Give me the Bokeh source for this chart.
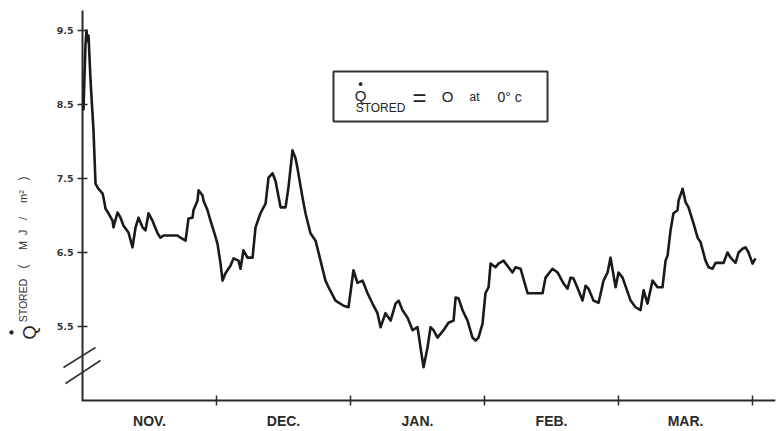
from bokeh.plotting import figure
from bokeh.models import FixedTicker, BoxAnnotation, Label, Arrow
from bokeh.embed import file_html
from bokeh.resources import INLINE

# ---- data (x in months from 1 Nov, y in MJ/m^2) ----
MONTH_POS = [0.007, 0.022, 0.030, 0.037, 0.045, 0.060, 0.082, 0.097, 0.119, 0.149,
             0.157, 0.172, 0.194, 0.224, 0.231, 0.261, 0.284, 0.306, 0.343, 0.373,
             0.396, 0.418, 0.448, 0.470, 0.493, 0.522, 0.560, 0.582, 0.604, 0.657,
             0.709, 0.731, 0.769, 0.791, 0.821, 0.828, 0.858, 0.866, 0.896, 0.903,
             0.933, 0.955, 0.978, 1.007, 1.030, 1.045, 1.067, 1.104, 1.127, 1.164,
             1.179, 1.201, 1.231, 1.269, 1.291, 1.328, 1.366, 1.388, 1.418, 1.440,
             1.478, 1.515, 1.537, 1.567, 1.590, 1.604, 1.642, 1.664, 1.701, 1.739,
             1.776, 1.813, 1.836, 1.888, 1.948, 1.985, 2.022, 2.052, 2.090, 2.127,
             2.164, 2.201, 2.224, 2.261, 2.299, 2.336, 2.358, 2.388, 2.425, 2.463,
             2.500, 2.522, 2.545, 2.575, 2.597, 2.619, 2.649, 2.694, 2.731, 2.769,
             2.784, 2.806, 2.836, 2.873, 2.910, 2.933, 2.955, 2.985, 3.007, 3.030,
             3.045, 3.082, 3.104, 3.142, 3.179, 3.209, 3.231, 3.269, 3.321, 3.358,
             3.433, 3.455, 3.507, 3.545, 3.590, 3.619, 3.642, 3.664, 3.701, 3.731,
             3.754, 3.776, 3.813, 3.851, 3.888, 3.918, 3.940, 3.963, 3.978, 4.000,
             4.030, 4.090, 4.127, 4.164, 4.187, 4.216, 4.254, 4.291, 4.328, 4.351,
             4.366, 4.388, 4.410, 4.440, 4.448, 4.478, 4.500, 4.522, 4.560, 4.590,
             4.612, 4.649, 4.672, 4.701, 4.724, 4.784, 4.813, 4.836, 4.873, 4.896,
             4.925, 4.948, 4.970, 5.000, 5.022]
Q_STORED = [8.42, 9.30, 9.50, 9.36, 9.43, 8.82, 8.15, 7.43, 7.36, 7.30,
            7.24, 7.09, 7.03, 6.93, 6.84, 7.04, 6.97, 6.86, 6.77, 6.57,
            6.84, 6.97, 6.84, 6.80, 7.03, 6.93, 6.76, 6.70, 6.73, 6.73,
            6.73, 6.70, 6.66, 6.96, 6.97, 7.07, 7.20, 7.34, 7.27, 7.20,
            7.07, 6.93, 6.80, 6.62, 6.35, 6.12, 6.22, 6.32, 6.42, 6.39,
            6.28, 6.53, 6.43, 6.43, 6.84, 7.03, 7.16, 7.51, 7.57, 7.47,
            7.11, 7.11, 7.38, 7.88, 7.77, 7.64, 7.24, 7.03, 6.76, 6.66,
            6.39, 6.12, 6.03, 5.85, 5.78, 5.76, 6.26, 6.09, 6.12, 5.95,
            5.81, 5.68, 5.49, 5.68, 5.58, 5.81, 5.85, 5.72, 5.62, 5.45,
            5.49, 5.22, 4.95, 5.22, 5.49, 5.45, 5.35, 5.45, 5.55, 5.58,
            5.89, 5.88, 5.72, 5.58, 5.35, 5.31, 5.35, 5.54, 5.95, 6.03,
            6.35, 6.30, 6.35, 6.39, 6.30, 6.23, 6.30, 6.28, 5.95, 5.95,
            5.95, 6.16, 6.28, 6.23, 6.08, 6.01, 6.16, 6.15, 5.99, 5.85,
            6.05, 6.01, 5.85, 5.82, 6.12, 6.23, 6.43, 6.19, 6.03, 6.23,
            6.16, 5.85, 5.76, 5.72, 5.99, 5.81, 6.12, 6.03, 6.03, 6.39,
            6.46, 6.80, 7.03, 7.07, 7.20, 7.36, 7.18, 7.11, 6.89, 6.70,
            6.64, 6.39, 6.30, 6.28, 6.36, 6.36, 6.50, 6.43, 6.36, 6.50,
            6.55, 6.57, 6.50, 6.35, 6.42]

Y_TICKS = [5.5, 6.5, 7.5, 8.5, 9.5]
MONTH_BOUNDS = [1, 2, 3, 4, 5]
MONTH_CENTERS = [0.5, 1.5, 2.5, 3.5, 4.5]
MONTH_LABELS = ["NOV.", "DEC.", "JAN.", "FEB.", "MAR."]

X_MIN, X_MAX = 0.0, 5.17      # extent of the drawn x axis
Y_MIN, Y_MAX = 4.5, 9.77      # extent of the drawn y axis

INK = "#1a1a1a"
AX = "#2a2a2a"

# the frame fills the whole canvas; axes sit at fixed locations inside it
p = figure(width=781, height=431, x_range=(-0.612, 5.216), y_range=(4.081, 9.905),
           output_backend="svg", toolbar_location=None,
           min_border_left=0, min_border_right=0, min_border_top=0,
           min_border_bottom=0)
p.outline_line_color = None
p.xgrid.visible = False
p.ygrid.visible = False
p.background_fill_color = "white"

# axis lines (L-shape)
p.line([X_MIN, X_MIN, X_MAX], [Y_MAX, Y_MIN, Y_MIN], line_color=AX, line_width=2,
       line_join="miter")

p.line(MONTH_POS, Q_STORED, line_color=INK, line_width=2.6, line_join="round")

# y axis
ya = p.yaxis[0]
ya.fixed_location = X_MIN
ya.ticker = FixedTicker(ticks=Y_TICKS, minor_ticks=[])
ya.axis_line_color = None
ya.major_tick_line_color = AX
ya.major_tick_line_width = 1.5
ya.major_tick_in = 5
ya.major_tick_out = 5
ya.minor_tick_line_color = None
ya.major_label_standoff = 4
ya.major_label_text_font = "DejaVu Sans"
ya.major_label_text_font_style = "bold"
ya.major_label_text_font_size = "9.5px"
ya.major_label_text_color = "#333333"

# x axis
xa = p.xaxis[0]
xa.fixed_location = Y_MIN
xa.ticker = FixedTicker(ticks=MONTH_CENTERS, minor_ticks=MONTH_BOUNDS)
xa.major_label_overrides = {c: l for c, l in zip(MONTH_CENTERS, MONTH_LABELS)}
xa.axis_line_color = None
xa.major_tick_line_color = None
xa.major_tick_in = 0
xa.major_tick_out = 0
xa.minor_tick_line_color = AX
xa.minor_tick_line_width = 1.5
xa.minor_tick_in = 5
xa.minor_tick_out = 5
xa.major_label_standoff = 8
xa.major_label_text_font = "Liberation Sans"
xa.major_label_text_font_style = "bold"
xa.major_label_text_font_size = "14px"
xa.major_label_text_color = "#2a2a2a"

# axis break marks
for (x0, y0, x1, y1) in [(-0.142, 4.946, 0.097, 5.216), (-0.127, 4.73, 0.134, 5.04)]:
    p.add_layout(Arrow(end=None, x_start=x0, y_start=y0, x_end=x1, y_end=y1,
                       line_color="#333333", line_width=1.6))

# y axis title (rotated, reads bottom to top)
p.add_layout(Label(x=-0.390, y=5.420, text="Q", angle=1.5708,
                   text_font="Liberation Sans", text_font_size="18px",
                   text_color="#222222", text_align="center", text_baseline="middle"))
p.scatter([-0.530], [5.420], size=3.5, color="#222222")
p.add_layout(Label(x=-0.444, y=5.851, text="STORED", angle=1.5708,
                   text_font="Liberation Sans", text_font_size="10.5px",
                   text_color="#333333", text_align="center", text_baseline="middle"))
title_parts = [("(", 6.311, "12px"), ("M", 6.595, "11px"), ("J", 6.770, "11px"),
               ("/", 6.959, "11px"), ("m\u00b2", 7.257, "11px"), (")", 7.500, "12px")]
for t, y, s in title_parts:
    p.add_layout(Label(x=-0.444, y=y, text=t, angle=1.5708,
                       text_font="Liberation Sans", text_font_size=s,
                       text_color="#333333", text_align="center",
                       text_baseline="middle"))

# note box
p.add_layout(BoxAnnotation(left=1.873, right=3.470, bottom=8.270, top=8.946,
                           fill_color=None, line_color="#333333", line_alpha=1.0,
                           line_width=2))
note = [("Q", 2.075, 8.622, "15px"), ("STORED", 2.224, 8.446, "12px"),
        ("=", 2.515, 8.600, "24px"), ("O", 2.724, 8.608, "15px"),
        ("at", 2.925, 8.595, "12px"), ("0\u00b0 c", 3.187, 8.600, "14px")]
for t, x, y, s in note:
    p.add_layout(Label(x=x, y=y, text=t, text_font="Liberation Sans",
                       text_font_size=s, text_color="#222222",
                       text_align="center", text_baseline="middle"))
p.scatter([2.075], [8.775], size=3, color="#222222")

open("out.html", "w").write(file_html(p, INLINE))
